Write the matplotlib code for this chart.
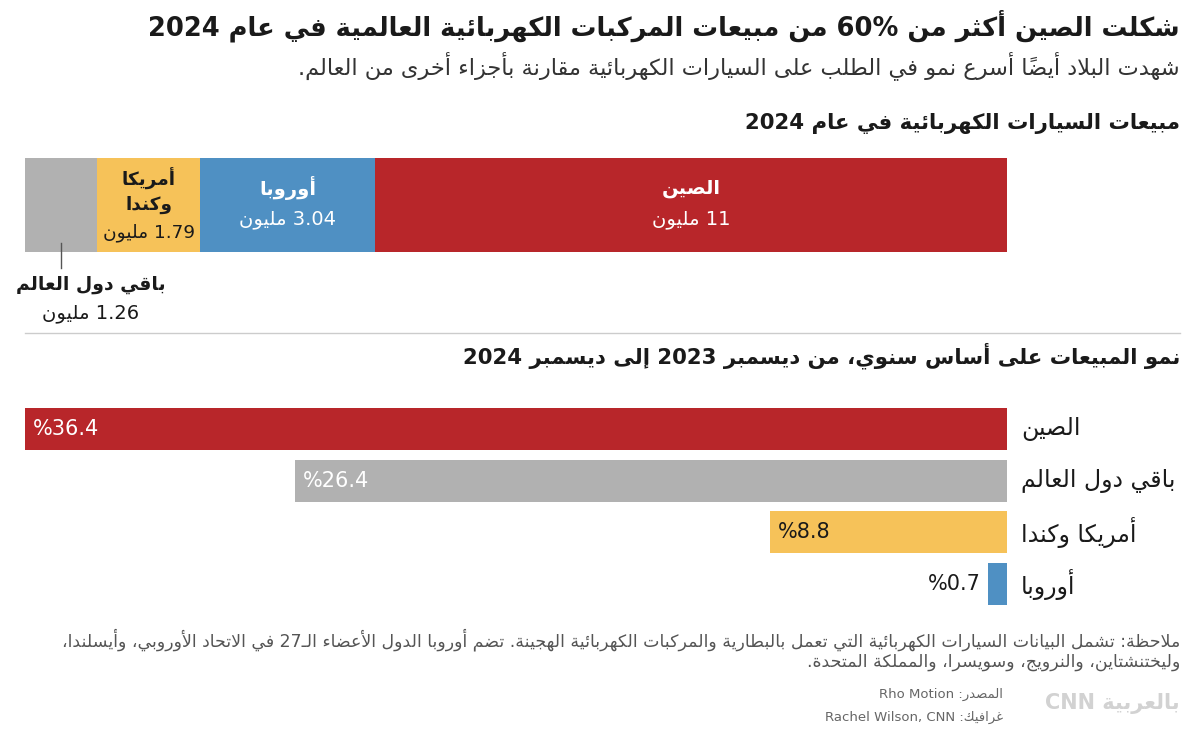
import re
import matplotlib
matplotlib.use('Agg')
import matplotlib.pyplot as plt
from matplotlib.lines import Line2D

# --- data ---
share_regions = ['باقي دول العالم', 'أمريكا وكندا', 'أوروبا', 'الصين']
share_values = [1.26, 1.79, 3.04, 11]
share_colors = ['#b1b1b1', '#f6c259', '#4f90c3', '#b8262a']

growth_regions = ['الصين', 'باقي دول العالم', 'أمريكا وكندا', 'أوروبا']
growth_values = [36.4, 26.4, 8.8, 0.7]
growth_colors = ['#b8262a', '#b1b1b1', '#f6c259', '#4f90c3']

title = 'شكلت الصين أكثر من 60% من مبيعات المركبات الكهربائية العالمية في عام 2024'
subtitle = 'شهدت البلاد أيضًا أسرع نمو في الطلب على السيارات الكهربائية مقارنة بأجزاء أخرى من العالم.'
head1 = 'مبيعات السيارات الكهربائية في عام 2024'
head2 = 'نمو المبيعات على أساس سنوي، من ديسمبر 2023 إلى ديسمبر 2024'
note1 = ('ملاحظة: تشمل البيانات السيارات الكهربائية التي تعمل بالبطارية والمركبات الكهربائية الهجينة. '
         'تضم أوروبا الدول الأعضاء الـ27 في الاتحاد الأوروبي، وأيسلندا،')
note2 = 'وليختنشتاين، والنرويج، وسويسرا، والمملكة المتحدة.'
source = 'المصدر: Rho Motion'
credit = 'غرافيك: Rachel Wilson, CNN'
unit = 'مليون'

# --- minimal arabic shaping + rtl ordering (matplotlib has no text shaping) ---
_B = {0x0621: (0xFE80, 1), 0x0622: (0xFE81, 2), 0x0623: (0xFE83, 2), 0x0624: (0xFE85, 2),
      0x0625: (0xFE87, 2), 0x0626: (0xFE89, 4), 0x0627: (0xFE8D, 2), 0x0628: (0xFE8F, 4),
      0x0629: (0xFE93, 2), 0x062A: (0xFE95, 4), 0x062B: (0xFE99, 4), 0x062C: (0xFE9D, 4),
      0x062D: (0xFEA1, 4), 0x062E: (0xFEA5, 4), 0x062F: (0xFEA9, 2), 0x0630: (0xFEAB, 2),
      0x0631: (0xFEAD, 2), 0x0632: (0xFEAF, 2), 0x0633: (0xFEB1, 4), 0x0634: (0xFEB5, 4),
      0x0635: (0xFEB9, 4), 0x0636: (0xFEBD, 4), 0x0637: (0xFEC1, 4), 0x0638: (0xFEC5, 4),
      0x0639: (0xFEC9, 4), 0x063A: (0xFECD, 4), 0x0641: (0xFED1, 4), 0x0642: (0xFED5, 4),
      0x0643: (0xFED9, 4), 0x0644: (0xFEDD, 4), 0x0645: (0xFEE1, 4), 0x0646: (0xFEE5, 4),
      0x0647: (0xFEE9, 4), 0x0648: (0xFEED, 2), 0x0649: (0xFEEF, 2), 0x064A: (0xFEF1, 4)}
_LAMALEF = {0x0622: 0xFEF5, 0x0623: 0xFEF7, 0x0625: 0xFEF9, 0x0627: 0xFEFB}


def _transparent(c):
    return 0x064B <= ord(c) <= 0x0652


def _joins_next(c):
    return c == '\u0640' or (ord(c) in _B and _B[ord(c)][1] == 4)


def _letter(c):
    return ord(c) in _B or c == '\u0640'


def shape(s):
    out = []
    n = len(s)
    i = 0
    while i < n:
        c = s[i]
        if ord(c) not in _B:
            out.append(c)
            i += 1
            continue
        j = i - 1
        while j >= 0 and _transparent(s[j]):
            j -= 1
        pj = j >= 0 and _joins_next(s[j])
        k = i + 1
        while k < n and _transparent(s[k]):
            k += 1
        nxt = s[k] if k < n else ''
        if c == '\u0644' and nxt and ord(nxt) in _LAMALEF:
            out.append(chr(_LAMALEF[ord(nxt)] + (1 if pj else 0)))
            i = k + 1
            continue
        base, nf = _B[ord(c)]
        nj = nf == 4 and nxt != '' and _letter(nxt)
        if pj and nj:
            out.append(chr(base + 3))
        elif pj:
            out.append(chr(base + 1))
        elif nj:
            out.append(chr(base + 2))
        else:
            out.append(chr(base))
        i += 1
    return ''.join(out)


def ar(s):
    s = shape(s)
    runs = re.split(r'([A-Za-z0-9][A-Za-z0-9.,% ]*[A-Za-z0-9%]|[A-Za-z0-9])', s)
    vis = []
    for idx, r in enumerate(runs):
        vis.append(r if idx % 2 else r[::-1])
    return ''.join(vis[::-1])


FONT = ['DejaVu Sans']
plt.rcParams['font.family'] = FONT

W, H = 1190, 735
fig = plt.figure(figsize=(W / 100, H / 100), dpi=100)


def fx(x):
    return x / W


def fy(y):
    return 1 - y / H


# header texts
fig.text(fx(1180), fy(26), ar(title), ha='right', va='center', fontsize=18.5,
         fontweight='bold', color='#1a1a1a')
fig.text(fx(1180), fy(66), ar(subtitle), ha='right', va='center', fontsize=16.2, color='#333333')
fig.text(fx(1180), fy(123), ar(head1), ha='right', va='center', fontsize=15.3,
         fontweight='bold', color='#1a1a1a')

# --- stacked bar of sales ---
ax1 = fig.add_axes([fx(25), fy(252), fx(982), 94 / H])
left = 0
for name, v, col in zip(share_regions, share_values, share_colors):
    ax1.barh(0, v, left=left, height=1, color=col, edgecolor='none')
    cx = left + v / 2
    if name == 'الصين' or name == 'أوروبا':
        ax1.text(cx, 0.18, ar(name), ha='center', va='center', fontsize=14,
                 fontweight='bold', color='white')
        ax1.text(cx, -0.15, ar(f'{v:g} {unit}'), ha='center', va='center', fontsize=14,
                 color='white')
    elif name == 'أمريكا وكندا':
        w1, w2 = name.split(' ')
        ax1.text(cx, 0.28, ar(w1), ha='center', va='center', fontsize=13.3, fontweight='bold',
                 color='#1a1a1a')
        ax1.text(cx, 0.0, ar(w2), ha='center', va='center', fontsize=13.3, fontweight='bold',
                 color='#1a1a1a')
        ax1.text(cx, -0.29, ar(f'{v:g} {unit}'), ha='center', va='center', fontsize=13.3,
                 color='#1a1a1a')
    else:
        ax1.plot([cx, cx], [-0.4, -0.67], color='#555555', lw=1, clip_on=False)
        rest_label = (name, v)
    left += v
ax1.set_xlim(0, sum(share_values))
ax1.set_ylim(-0.5, 0.5)
ax1.axis('off')

fig.text(fx(91), fy(284), ar(rest_label[0]), ha='center', va='center', fontsize=13.5,
         fontweight='bold', color='#1a1a1a')
fig.text(fx(91), fy(313), ar(f'{rest_label[1]:g} {unit}'), ha='center', va='center',
         fontsize=14, color='#1a1a1a')

# divider
fig.add_artist(Line2D([fx(25), fx(1180)], [fy(333), fy(333)], color='#cccccc', lw=1))
fig.text(fx(1180), fy(356), ar(head2), ha='right', va='center', fontsize=15.3,
         fontweight='bold', color='#1a1a1a')

# --- growth bars ---
ax2 = fig.add_axes([fx(25), fy(610), fx(982), 207 / H])
ypos = list(range(len(growth_values)))
ax2.barh(ypos, growth_values, height=0.81, color=growth_colors, edgecolor='none')
for y, name, v in zip(ypos, growth_regions, growth_values):
    lab = f'%{v:g}'
    if v > 3:
        ax2.annotate(lab, (v, y), xytext=(6, 0), textcoords='offset points', ha='left',
                     va='center', fontsize=15, color='white' if v > 20 else '#1a1a1a')
    else:
        ax2.annotate(lab, (v, y), xytext=(-5, 0), textcoords='offset points', ha='right',
                     va='center', fontsize=15, color='#1a1a1a')
    ax2.annotate(ar(name), (0, y), xytext=(10, 0), textcoords='offset points', ha='left',
                 va='center', fontsize=17, color='#1a1a1a', annotation_clip=False)
ax2.set_xlim(max(growth_values), 0)
ax2.set_ylim(3.5, -0.5)
ax2.axis('off')

# footer
fig.text(fx(1180), fy(640), ar(note1), ha='right', va='center', fontsize=12.5, color='#555555')
fig.text(fx(1180), fy(662), ar(note2), ha='right', va='center', fontsize=12.5, color='#555555')
fig.text(fx(1003), fy(694), ar(source), ha='right', va='center', fontsize=9.5, color='#666666')
fig.text(fx(1003), fy(717), ar(credit), ha='right', va='center', fontsize=9.5, color='#666666')
fig.text(fx(1180), fy(703), ar('بالعربية CNN'), ha='right', va='center', fontsize=15,
         fontweight='bold', color='#d2d2d2')

fig.savefig('out.png', dpi=100, facecolor='white')
